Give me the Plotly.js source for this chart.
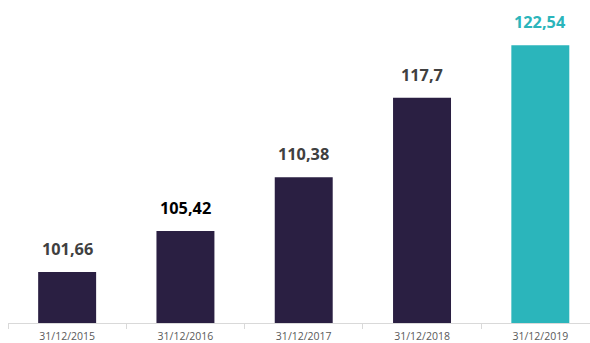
<!DOCTYPE html>
<html><head><meta charset="utf-8">
<script src="https://cdn.plot.ly/plotly-3.0.1.min.js"></script>
<style>html,body{margin:0;padding:0;background:#fff}#chart{width:590px;height:343px}</style>
</head><body><div id="chart"></div>
<script>
const categories = ["31/12/2015","31/12/2016","31/12/2017","31/12/2018","31/12/2019"];
const values = [101.66, 105.42, 110.38, 117.7, 122.54];
const valueLabels = ["101,66","105,42","110,38","117,7","122,54"];
const barColors = ["#2a1f42","#2a1f42","#2a1f42","#2a1f42","#2bb5bb"];
const labelColors = ["#404040","#000000","#404040","#404040","#2bb5bb"];

const trace = {
  type: "bar", x: categories, y: values,
  marker: {color: barColors, line: {width: 0}},
  hoverinfo: "none"
};
const annotations = categories.map((c, i) => ({
  x: c, y: values[i], text: "<b>" + valueLabels[i] + "</b>",
  showarrow: false, yanchor: "bottom", yshift: 10,
  font: {family: "Open Sans", size: 16.3, color: labelColors[i]}
}));
const layout = {
  width: 590, height: 343,
  margin: {l: 8, r: 0, t: 9, b: 20},
  paper_bgcolor: "#fff", plot_bgcolor: "#fff",
  bargap: 0.51,
  showlegend: false,
  xaxis: {
    type: "category", range: [-0.5, 4.42],
    showline: true, linecolor: "#d9d9d9", linewidth: 1,
    ticks: "outside", tickson: "boundaries", ticklen: 5, tickcolor: "#d9d9d9",
    ticklabelstandoff: 3,
    showgrid: false, zeroline: false,
    tickfont: {family: "Open Sans", size: 10.5, color: "#595959"}
  },
  yaxis: {
    range: [96.95, 125.88], visible: false, showgrid: false, zeroline: false
  },
  annotations: annotations
};
Plotly.newPlot("chart", [trace], layout, {displayModeBar: false, staticPlot: true});
</script></body></html>
